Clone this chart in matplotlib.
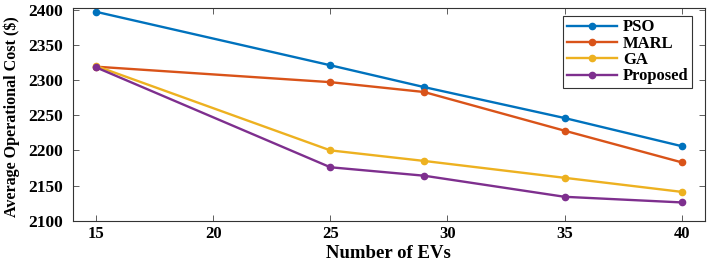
import matplotlib
matplotlib.use("Agg")
import matplotlib.pyplot as plt

x_evs = [15, 25, 29, 35, 40]
pso = [2397, 2321, 2290, 2246, 2206]
marl = [2319, 2297, 2283, 2228, 2183]
ga = [2320, 2200, 2185, 2161, 2141]
proposed = [2318, 2176, 2164, 2134, 2126]
series_names = ["PSO", "MARL", "GA", "Proposed"]
colors = ["#0072BD", "#D95319", "#EDB120", "#7E2F8E"]

plt.rcParams['font.family'] = ['Liberation Serif', 'DejaVu Serif']
plt.rcParams['font.weight'] = 'bold'

fig = plt.figure(figsize=(7.09, 2.62), dpi=100)
ax = fig.add_axes([0.1025, 0.1576, 0.892, 0.8134])

for ys, name, c in zip([pso, marl, ga, proposed], series_names, colors):
    ax.plot(x_evs, ys, '-o', color=c, lw=1.7, ms=4.5, label=name)

ax.set_xlim(14, 41)
ax.set_ylim(2100, 2403)
ax.set_xticks([15, 20, 25, 30, 35, 40])
ax.set_yticks([2100, 2150, 2200, 2250, 2300, 2350, 2400])
ax.tick_params(direction='in', top=True, right=True, labelsize=12.5, length=4,
               width=0.6, color='#444444')
ax.tick_params(axis='y', pad=7)
ax.tick_params(axis='x', pad=4, labelsize=12)
for lab in ax.get_xticklabels() + ax.get_yticklabels():
    lab.set_fontweight('bold')
for s in ax.spines.values():
    s.set_linewidth(0.8)
    s.set_color('#333333')

ax.set_xlabel("Number of EVs", fontsize=13.5, fontweight='bold')
ax.set_ylabel("Average Operational Cost ($)", fontsize=11.6, fontweight='bold')
ax.yaxis.set_label_coords(-0.084, 0.49)
ax.xaxis.set_label_coords(0.5, -0.112)

leg = ax.legend(loc='upper right', bbox_to_anchor=(0.9795, 0.96),
                prop={'weight': 'bold', 'size': 12}, fancybox=False, framealpha=1,
                edgecolor='#333333', handlelength=3.0, labelspacing=0.02,
                borderpad=0.2, handletextpad=0.4, borderaxespad=0)
leg.get_frame().set_linewidth(0.8)

fig.savefig("out.png", dpi=100)
